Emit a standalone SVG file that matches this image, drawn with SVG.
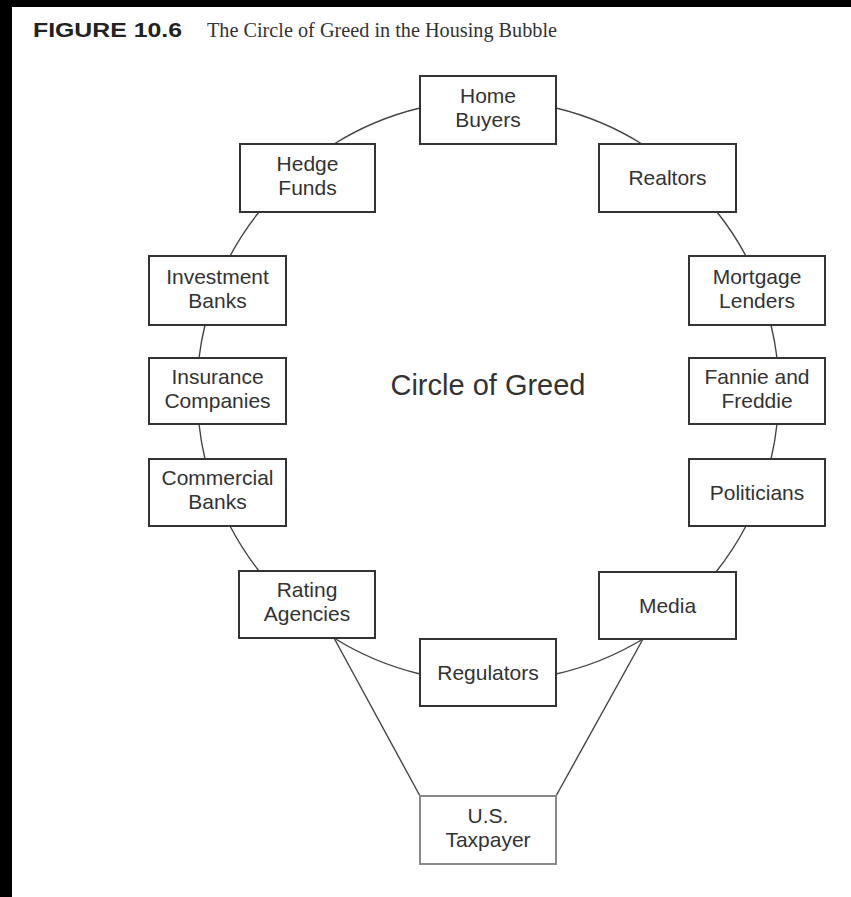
<svg xmlns="http://www.w3.org/2000/svg" width="851" height="897" viewBox="0 0 851 897">
<style>
.box{fill:#fff;stroke:#333;stroke-width:2}
.box2{fill:#fff;stroke:#888;stroke-width:2}
.lbl{font-family:"Liberation Sans",Arial,sans-serif;font-size:21px;fill:#333;text-anchor:middle}
.con{fill:none;stroke:#444;stroke-width:1.4}
</style>
<rect x="0" y="0" width="851" height="897" fill="#fff"/>
<rect x="0" y="0" width="851" height="7" fill="#000"/>
<rect x="0" y="0" width="12" height="897" fill="#000"/>
<text x="33" y="37" font-family="Liberation Sans,Arial,sans-serif" font-weight="bold" font-size="21" fill="#222" textLength="149" lengthAdjust="spacingAndGlyphs">FIGURE 10.6</text>
<text x="207" y="37" font-family="Liberation Serif,Times New Roman,serif" font-size="21" fill="#333" textLength="350" lengthAdjust="spacingAndGlyphs">The Circle of Greed in the Housing Bubble</text>
<g id="connectors">
<path class="con" d="M556,108 A291,291 0 0 1 642,144"/>
<path class="con" d="M717,212 A291,291 0 0 1 746,256"/>
<path class="con" d="M771,325 A291,291 0 0 1 777,358"/>
<path class="con" d="M777,424 A291,291 0 0 1 771,459"/>
<path class="con" d="M746,526 A291,291 0 0 1 716,572"/>
<path class="con" d="M643,639 A291,291 0 0 1 556,674"/>
<path class="con" d="M420,674 A291,291 0 0 1 334,638"/>
<path class="con" d="M259,571 A291,291 0 0 1 230,526"/>
<path class="con" d="M205,459 A291,291 0 0 1 199,424"/>
<path class="con" d="M199,358 A291,291 0 0 1 205,325"/>
<path class="con" d="M230,256 A291,291 0 0 1 259,212"/>
<path class="con" d="M334,144 A291,291 0 0 1 420,108"/>
<line class="con" x1="334" y1="638" x2="420" y2="796"/>
<line class="con" x1="643" y1="639" x2="556" y2="796"/>
</g>
<text x="488" y="395" font-family="Liberation Sans,Arial,sans-serif" font-size="29" fill="#333" text-anchor="middle">Circle of Greed</text>
<g id="home-buyers"><rect class="box" x="420" y="76" width="136" height="68"/><text class="lbl" x="488" y="103">Home</text><text class="lbl" x="488" y="127">Buyers</text></g>
<g id="realtors"><rect class="box" x="599" y="144" width="137" height="68"/><text class="lbl" x="667.5" y="185">Realtors</text></g>
<g id="hedge-funds"><rect class="box" x="240" y="144" width="135" height="68"/><text class="lbl" x="307.5" y="171">Hedge</text><text class="lbl" x="307.5" y="195">Funds</text></g>
<g id="investment-banks"><rect class="box" x="149" y="256" width="137" height="69"/><text class="lbl" x="217.5" y="284">Investment</text><text class="lbl" x="217.5" y="308">Banks</text></g>
<g id="mortgage-lenders"><rect class="box" x="689" y="256" width="136" height="69"/><text class="lbl" x="757" y="284">Mortgage</text><text class="lbl" x="757" y="308">Lenders</text></g>
<g id="insurance-companies"><rect class="box" x="149" y="358" width="137" height="66"/><text class="lbl" x="217.5" y="384">Insurance</text><text class="lbl" x="217.5" y="408">Companies</text></g>
<g id="fannie-freddie"><rect class="box" x="689" y="358" width="136" height="66"/><text class="lbl" x="757" y="384">Fannie and</text><text class="lbl" x="757" y="408">Freddie</text></g>
<g id="commercial-banks"><rect class="box" x="149" y="459" width="137" height="67"/><text class="lbl" x="217.5" y="485">Commercial</text><text class="lbl" x="217.5" y="509">Banks</text></g>
<g id="politicians"><rect class="box" x="689" y="459" width="136" height="67"/><text class="lbl" x="757" y="500">Politicians</text></g>
<g id="rating-agencies"><rect class="box" x="239" y="571" width="136" height="67"/><text class="lbl" x="307" y="597">Rating</text><text class="lbl" x="307" y="621">Agencies</text></g>
<g id="media"><rect class="box" x="599" y="572" width="137" height="67"/><text class="lbl" x="667.5" y="613">Media</text></g>
<g id="regulators"><rect class="box" x="420" y="639" width="136" height="67"/><text class="lbl" x="488" y="680">Regulators</text></g>
<g id="us-taxpayer"><rect class="box2" x="420" y="796" width="136" height="68"/><text class="lbl" x="488" y="823" fill="#3a3a48">U.S.</text><text class="lbl" x="488" y="847">Taxpayer</text></g>
</svg>
